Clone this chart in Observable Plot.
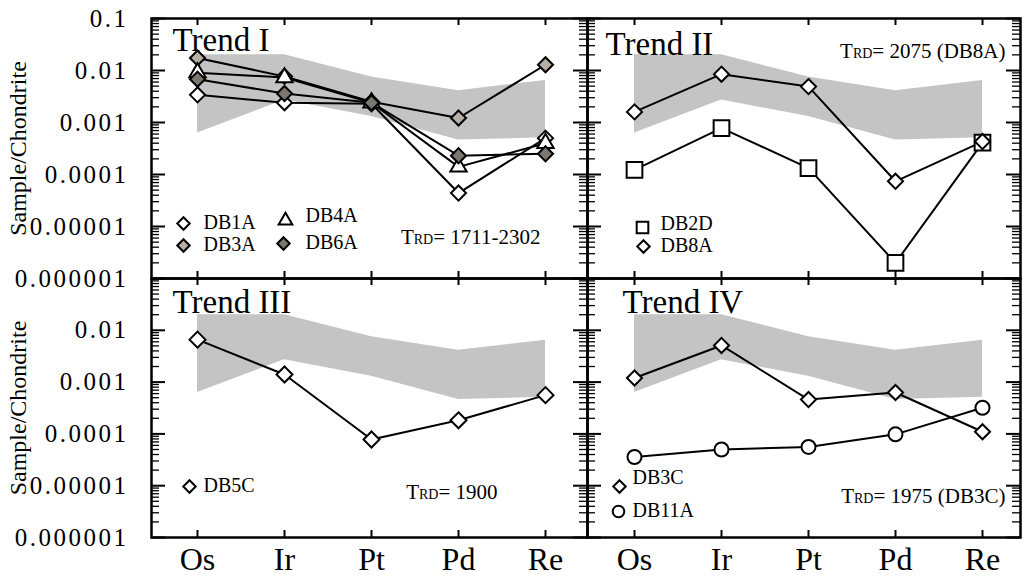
<!DOCTYPE html>
<html><head><meta charset="utf-8">
<script src="https://cdn.jsdelivr.net/npm/d3@7"></script>
<script src="https://cdn.jsdelivr.net/npm/@observablehq/plot@0.6"></script>
<style>
body{margin:0;background:#fff;}
#chart{position:relative;width:1023px;height:577px;overflow:hidden;background:#fff;}
#chart svg{position:absolute;left:0;top:0;font-family:"Liberation Serif","Times New Roman",serif !important;}
</style></head><body><div id="chart"></div>
<script>
// ---- data ----
const elements = ["Os", "Ir", "Pt", "Pd", "Re"];
const bandUpper = [0.020, 0.020, 0.0075, 0.0041, 0.0064];
const bandLower = [0.00063, 0.0027, 0.0013, 0.00046, 0.00051];

const DB1A = [0.0034, 0.0024, 0.0023, 0.000044, 0.0005];
const DB3A = [0.0174, 0.0077, 0.0025, 0.00122, 0.0129];
const DB4A = [0.0091, 0.0073, 0.0024, 0.00014, 0.0004];
const DB6A = [0.0068, 0.0036, 0.0024, 0.00023, 0.00025];
const DB2D = [0.000123, 0.00078, 0.000133, 0.000002, 0.00041];
const DB8A = [0.0016, 0.0085, 0.0049, 0.000074, 0.00043];
const DB5C = [0.0066, 0.0014, 0.000078, 0.000183, 0.00056];
const DB3C = [0.0012, 0.0051, 0.00046, 0.00063, 0.00011];
const DB11A = [0.0000358, 0.00005, 0.000056, 0.000098, 0.00032];

const yTickValues = [0.1, 0.01, 0.001, 0.0001, 0.00001, 0.000001];
const yTickLabels = ["0.1", "0.01", "0.001", "0.0001", "0.00001", "0.000001"];
const panelTitles = ["Trend I", "Trend II", "Trend III", "Trend IV"];
const trdValues = ["1711-2302", "2075 (DB8A)", "1900", "1975 (DB3C)"];
const yTitle = "Sample/Chondrite";

// ---- styling / layout ----
const W = 1023, H = 577;
const FONT = "Liberation Serif, Times New Roman, serif";
const minorTicks = [];
for (let k = -6; k <= -2; k++) for (let m = 2; m <= 9; m++) minorTicks.push(m * Math.pow(10, k));

const seriesValues = {DB1A, DB3A, DB4A, DB6A, DB2D, DB8A, DB5C, DB3C, DB11A};
const seriesStyle = {
  DB1A: {symbol: "diamond2", fill: "white", r: 6.8},
  DB3A: {symbol: "diamond2", fill: "#b5afa5", r: 6.8},
  DB4A: {symbol: "triangle2", fill: "white", r: 7.8},
  DB6A: {symbol: "diamond2", fill: "#7b766e", r: 6.8},
  DB2D: {symbol: "square2", fill: "white", r: 10},
  DB8A: {symbol: "diamond2", fill: "white", r: 6.8},
  DB5C: {symbol: "diamond2", fill: "white", r: 7.2},
  DB3C: {symbol: "diamond2", fill: "white", r: 6.8},
  DB11A: {symbol: "circle", fill: "white", r: 7}
};

const panels = [
  {t: 0, box: [151, 587, 18, 278], inset: [45, 42], samples: ["DB1A", "DB3A", "DB4A", "DB6A"],
   yLabels: yTickValues, xLabels: false, titlePos: [21, 32],
   trd: {frameAnchor: "bottom-right", dx: -47, dy: -35},
   legend: [
     {name: "DB1A", mx: 32, my: 205, tx: 52, ty: 204, r: 5.6},
     {name: "DB3A", mx: 32, my: 227, tx: 52, ty: 226, r: 5.6},
     {name: "DB4A", mx: 134, my: 202, tx: 154, ty: 197, r: 6.5},
     {name: "DB6A", mx: 132, my: 225, tx: 154, ty: 224, r: 5.6}
   ]},
  {t: 1, box: [587, 1020, 18, 278], inset: [47, 38], samples: ["DB2D", "DB8A"],
   yLabels: null, xLabels: false, titlePos: [18, 36],
   trd: {frameAnchor: "top-right", dx: -15, dy: 39},
   legend: [
     {name: "DB2D", mx: 55, my: 209, tx: 73, ty: 205, r: 7.4},
     {name: "DB8A", mx: 56, my: 228, tx: 73, ty: 227, r: 5.6}
   ]},
  {t: 2, box: [151, 587, 278, 537], inset: [45, 42], samples: ["DB5C"],
   yLabels: yTickValues.slice(1), xLabels: true, titlePos: [21, 34],
   trd: {frameAnchor: "bottom-right", dx: -90, dy: -39},
   legend: [
     {name: "DB5C", mx: 38, my: 208, tx: 52, ty: 207, r: 5.6}
   ]},
  {t: 3, box: [587, 1020, 278, 537], inset: [47, 38], samples: ["DB3C", "DB11A"],
   yLabels: null, xLabels: true, titlePos: [35, 34],
   trd: {frameAnchor: "bottom-right", dx: -15, dy: -35},
   legend: [
     {name: "DB3C", mx: 32, my: 208, tx: 45, ty: 199, r: 5.6},
     {name: "DB11A", mx: 31, my: 233, tx: 45, ty: 232, r: 5.8}
   ]}
];

const band = elements.map((e, i) => ({element: e, lo: bandLower[i], hi: bandUpper[i]}));
const rowsFor = (name) => elements.map((e, i) => ({element: e, value: seriesValues[name][i], sample: name}));

const chart = document.getElementById("chart");

for (const p of panels) {
  const [x0, x1, y0, y1] = p.box;
  const w = x1 - x0, h = y1 - y0;
  const allRows = p.samples.flatMap(rowsFor);
  const marks = [
    Plot.areaY(band, {x: "element", y1: "lo", y2: "hi", fill: "#c4c4c4"}),
    Plot.ruleY(yTickValues, {stroke: "black", strokeWidth: 2, insetRight: w - 14}),
    Plot.ruleY(yTickValues, {stroke: "black", strokeWidth: 2, insetLeft: w - 14}),
    Plot.ruleY(minorTicks, {stroke: "black", strokeWidth: 1.3, insetRight: w - 8}),
    Plot.ruleY(minorTicks, {stroke: "black", strokeWidth: 1.3, insetLeft: w - 8}),
    Plot.ruleX(elements, {stroke: "black", strokeWidth: 2, insetBottom: h - 7}),
    Plot.ruleX(elements, {stroke: "black", strokeWidth: 2, insetTop: h - 7}),
    Plot.line(allRows, {x: "element", y: "value", z: "sample", stroke: "black", strokeWidth: 2}),
    ...p.samples.map(s => Plot.dot(rowsFor(s), {
      x: "element", y: "value", symbol: seriesStyle[s].symbol, r: seriesStyle[s].r,
      fill: seriesStyle[s].fill, stroke: "black", strokeWidth: 2
    })),
    Plot.frame({stroke: "black", strokeWidth: 2.5}),
    Plot.text([panelTitles[p.t]], {frameAnchor: "top-left", dx: p.titlePos[0], dy: p.titlePos[1],
      textAnchor: "start", lineAnchor: "bottom", fontSize: 33, fill: "black"}),
    Plot.text([`TRD= ${trdValues[p.t]}`], {...p.trd, textAnchor: "end", lineAnchor: "bottom",
      fontSize: 21, fill: "black"}),
    ...p.legend.flatMap(l => [
      Plot.dot([l.name], {frameAnchor: "top-left", dx: l.mx, dy: l.my, symbol: seriesStyle[l.name].symbol,
        r: l.r, fill: seriesStyle[l.name].fill, stroke: "black", strokeWidth: 2}),
      Plot.text([l.name], {frameAnchor: "top-left", dx: l.tx, dy: l.ty, textAnchor: "start",
        lineAnchor: "middle", fontSize: 20, fill: "black"})
    ])
  ];
  if (p.yLabels) {
    marks.push(
      Plot.text(p.yLabels, {y: d => d, text: d => yTickLabels[yTickValues.indexOf(d)], frameAnchor: "left",
        dx: -23, textAnchor: "end", lineAnchor: "middle", fontSize: 25, fill: "black"}),
      Plot.text([yTitle], {frameAnchor: "left", dx: -133, rotate: -90, textAnchor: "middle",
        lineAnchor: "middle", fontSize: 24, fill: "black"})
    );
  }
  if (p.xLabels) {
    marks.push(Plot.text(elements, {x: d => d, frameAnchor: "bottom", dy: 22, lineAnchor: "middle",
      fontSize: 32, fill: "black"}));
  }
  const svg = Plot.plot({
    width: W, height: H,
    marginLeft: x0, marginRight: W - x1, marginTop: y0, marginBottom: H - y1,
    x: {type: "point", domain: elements, padding: 0, insetLeft: p.inset[0], insetRight: p.inset[1], axis: null},
    y: {type: "log", domain: [1e-6, 0.1], axis: null},
    style: {fontFamily: FONT, background: "transparent", overflow: "visible"},
    marks
  });
  const sel = d3.select(svg);
  sel.selectAll("text").each(function () {
    const s = this.textContent;
    if (s.startsWith("TRD=")) {
      const rest = s.slice(3);
      const t = d3.select(this);
      t.text(null);
      t.append("tspan").text("T");
      t.append("tspan").attr("font-size", 14).text("RD");
      t.append("tspan").text(rest);
    } else if (yTickLabels.includes(s)) {
      d3.select(this).attr("letter-spacing", 2.5);
    }
  });
  chart.appendChild(svg);
}
</script>
</body></html>
